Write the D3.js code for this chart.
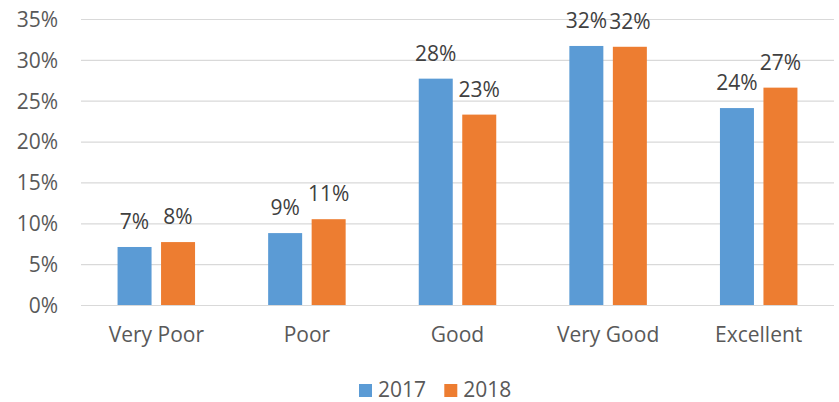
<!DOCTYPE html>
<html><head><meta charset="utf-8">
<script src="https://cdn.jsdelivr.net/npm/d3@7"></script>
<style>body{margin:0;background:#fff;}svg{display:block;}</style>
</head><body>
<svg id="c" width="839" height="402"></svg>
<script>
const categories = ["Very Poor", "Poor", "Good", "Very Good", "Excellent"];
const series = ["2017", "2018"];
const values2017 = [7.1, 8.8, 27.7, 31.7, 24.1];
const values2018 = [7.7, 10.5, 23.3, 31.6, 26.6];
const yTicks = [0, 5, 10, 15, 20, 25, 30, 35];
const colors = ["#5b9bd5", "#ed7d31"];

const svg = d3.select("#c");
const font = "'Open Sans', sans-serif";
const fs = 21;
const x0 = 81, x1 = 834, yTop = 19, yBot = 305;
const x = d3.scaleBand().domain(categories).range([x0, x1]);
const y = d3.scaleLinear().domain([0, 35]).range([yBot, yTop]);
const barW = 34, gap = 9.5;

// gridlines
svg.append("g").selectAll("line").data(yTicks).join("line")
  .attr("x1", x0).attr("x2", x1)
  .attr("y1", d => y(d) + 0.5).attr("y2", d => y(d) + 0.5)
  .attr("stroke", "#d9d9d9").attr("stroke-width", 1.2);

// y axis labels
const yAxis = d3.axisLeft(y).tickValues(yTicks).tickSize(0).tickPadding(0).tickFormat(d => d + "%");
const ya = svg.append("g").attr("transform", `translate(58,0)`).call(yAxis);
ya.select(".domain").remove();
ya.selectAll("text").attr("font-family", font).attr("font-size", fs).attr("fill", "#595959").attr("dy", "0.35em");

const data = categories.map((c, i) => ({c, v: [values2017[i], values2018[i]]}));
const groups = svg.append("g").selectAll("g").data(data).join("g");
groups.each(function(d) {
  const g = d3.select(this);
  const cx = x(d.c) + x.bandwidth() / 2;
  d.v.forEach((v, j) => {
    const bx = j === 0 ? cx - gap / 2 - barW : cx + gap / 2;
    g.append("rect").attr("x", bx).attr("width", barW)
      .attr("y", y(v)).attr("height", y(0) - y(v))
      .attr("fill", colors[j]);
    g.append("text").attr("x", bx + barW / 2).attr("y", y(v) - 18)
      .attr("text-anchor", "middle").attr("font-family", font).attr("font-size", fs)
      .attr("fill", "#404040").text(Math.round(v) + "%");
  });
});

// x axis labels
const xAxis = d3.axisBottom(x).tickSize(0).tickPadding(0);
const xa = svg.append("g").attr("transform", `translate(0,${yBot})`).call(xAxis);
xa.select(".domain").remove();
xa.selectAll("text").attr("font-family", font).attr("font-size", fs).attr("fill", "#595959")
  .attr("dy", null).attr("y", 37);

// legend
const legend = svg.append("g");
const lx = [359, 444.3];
series.forEach((s, j) => {
  legend.append("rect").attr("x", lx[j]).attr("y", 384).attr("width", 13).attr("height", 13).attr("fill", colors[j]);
  legend.append("text").attr("x", lx[j] + 19).attr("y", 397).attr("font-family", font).attr("font-size", fs)
    .attr("fill", "#595959").text(s);
});
</script>
</body></html>
